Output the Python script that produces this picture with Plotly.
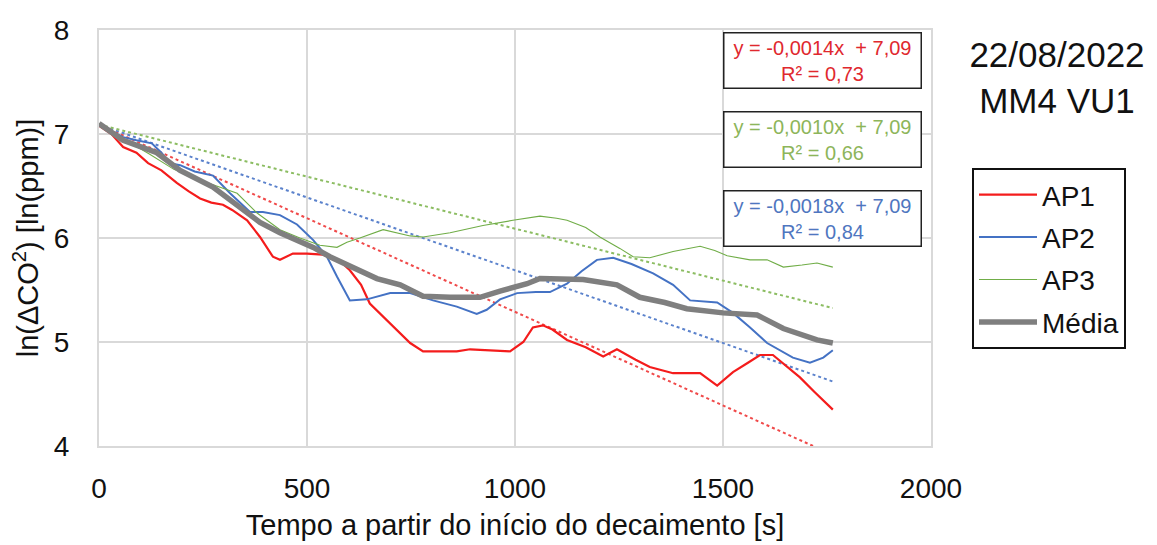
import plotly.graph_objects as go

# ---------------- data ----------------
t_ap1 = [0, 30, 58, 90, 118, 150, 187, 215, 243, 270, 298, 320, 356, 387, 418, 435, 466, 500, 538, 579,
         603, 630, 651, 700, 748, 779, 820, 860, 892, 940, 988, 1020, 1043, 1067, 1090, 1125, 1170, 1212,
         1245, 1290, 1324, 1380, 1445, 1486, 1524, 1560, 1589, 1620, 1650, 1685, 1720, 1764]
ap1 = [7.08, 7.0, 6.875, 6.82, 6.72, 6.65, 6.53, 6.45, 6.38, 6.34, 6.32, 6.27, 6.17, 6.01, 5.82, 5.79,
       5.85, 5.85, 5.84, 5.78, 5.69, 5.55, 5.37, 5.18, 4.99, 4.91, 4.91, 4.91, 4.93, 4.92, 4.91, 5.0,
       5.14, 5.16, 5.12, 5.02, 4.95, 4.86, 4.93, 4.83, 4.76, 4.70, 4.70, 4.58, 4.71, 4.80, 4.875, 4.875,
       4.78, 4.66, 4.52, 4.35]

t_ap2 = [0, 30, 58, 90, 127, 150, 171, 195, 230, 274, 315, 363, 394, 435, 476, 515, 548, 572, 603, 644,
         700, 748, 803, 860, 908, 932, 964, 1005, 1050, 1084, 1125, 1160, 1197, 1236, 1280, 1332, 1380,
         1421, 1486, 1524, 1565, 1606, 1640, 1668, 1709, 1741, 1764]
ap2 = [7.09, 7.03, 6.97, 6.94, 6.91, 6.82, 6.72, 6.70, 6.64, 6.60, 6.43, 6.25, 6.25, 6.22, 6.13, 5.98,
       5.82, 5.63, 5.40, 5.41, 5.47, 5.47, 5.40, 5.34, 5.27, 5.31, 5.41, 5.47, 5.48, 5.48, 5.56, 5.68,
       5.79, 5.81, 5.75, 5.66, 5.55, 5.40, 5.38, 5.28, 5.14, 4.99, 4.91, 4.85, 4.80, 4.85, 4.92]

t_ap3 = [0, 60, 120, 180, 240, 332, 380, 435, 483, 531, 572, 596, 627, 683, 748, 779, 844, 923, 995,
         1060, 1100, 1125, 1170, 1204, 1252, 1284, 1324, 1380, 1445, 1480, 1510, 1565, 1606, 1645, 1690,
         1726, 1764]
ap3 = [7.10, 6.95, 6.81, 6.66, 6.56, 6.43, 6.24, 6.08, 6.0, 5.93, 5.91, 5.96, 6.0, 6.08, 6.02, 6.01,
       6.05, 6.12, 6.17, 6.21, 6.19, 6.17, 6.10, 6.01, 5.90, 5.82, 5.81, 5.87, 5.92, 5.88, 5.83, 5.79,
       5.79, 5.72, 5.74, 5.76, 5.72]

t_media = [0, 58, 139, 195, 274, 339, 387, 435, 476, 515, 555, 596, 668, 724, 779, 844, 916, 964, 1029,
           1060, 1110, 1164, 1245, 1300, 1360, 1413, 1500, 1582, 1645, 1700, 1726, 1764]
media = [7.10, 6.94, 6.82, 6.65, 6.49, 6.30, 6.15, 6.05, 5.98, 5.91, 5.82, 5.74, 5.61, 5.55, 5.44, 5.43,
         5.43, 5.49, 5.56, 5.61, 5.61, 5.60, 5.55, 5.43, 5.38, 5.32, 5.28, 5.26, 5.13, 5.05, 5.02, 4.99]

# linear trend lines (as drawn): slope, intercept
trend_names = ["AP1", "AP2", "AP3"]
trend_slopes = [-0.0018, -0.0014, -0.0010]
trend_intercepts = [7.09, 7.09, 7.09]
trend_xrange = [0, 1764]

# equation labels (as printed on the chart)
eq_labels = ["y = -0,0014x  + 7,09<br>R² = 0,73",
             "y = -0,0010x  + 7,09<br>R² = 0,66",
             "y = -0,0018x  + 7,09<br>R² = 0,84"]
eq_x = [1738, 1738, 1738]
eq_y = [7.71, 6.95, 6.19]

x_ticks = [0, 500, 1000, 1500, 2000]
y_ticks = [4, 5, 6, 7, 8]

# ---------------- style ----------------
FONT = "Liberation Sans, Arial, sans-serif"
c_red, c_blue, c_green, c_gray = "#f41c1c", "#4472c4", "#70ad47", "#7f7f7f"
trend_colors = ["#f04a4a", "#5b82cc", "#8cbd62"]
eq_colors = ["#e0282e", "#8db55a", "#4f76c0"]

# page body has an 8px margin in the browser
OFF = 8
W, H = 1157 - OFF, 545 - OFF
ML, MT, MR, MB = 99 - OFF, 30 - OFF, 226, 99
PW, PH = W - ML - MR, H - MT - MB

fig = go.Figure()

for name, s, b, col in zip(trend_names, trend_slopes, trend_intercepts, trend_colors):
    fig.add_trace(go.Scatter(
        x=trend_xrange, y=[b + s * xx for xx in trend_xrange], mode="lines",
        line=dict(color=col, width=2, dash="dot"), showlegend=False, hoverinfo="skip"))

series = [("AP1", t_ap1, ap1, c_red, 2.2), ("AP2", t_ap2, ap2, c_blue, 2.0),
          ("AP3", t_ap3, ap3, c_green, 1.1), ("Média", t_media, media, c_gray, 5.5)]
for name, tx, ty, col, w in series:
    fig.add_trace(go.Scatter(x=tx, y=ty, mode="lines", name=name, legendgroup=name,
                             line=dict(color=col, width=w)))

for txt, ex, ey, col in zip(eq_labels, eq_x, eq_y, eq_colors):
    fig.add_annotation(x=ex, y=ey, xref="x", yref="y", text=txt, showarrow=False,
                       font=dict(family=FONT, size=20, color=col), align="center",
                       width=190, height=48, bgcolor="white",
                       bordercolor="#222222", borderwidth=1.5, borderpad=3)

axis_common = dict(showgrid=True, gridcolor="#d9d9d9", gridwidth=2, showline=True,
                   linecolor="#d9d9d9", linewidth=2, mirror=True, zeroline=False,
                   ticks="", tickfont=dict(family=FONT, size=28, color="#111111"))

fig.update_xaxes(range=[0, 2000], tickvals=x_ticks, ticktext=[str(v) for v in x_ticks],
                 ticklabelstandoff=16,
                 title=dict(text="Tempo a partir do início do decaimento [s]",
                            font=dict(family=FONT, size=29, color="#111111"), standoff=12),
                 **axis_common)
fig.update_yaxes(range=[4, 8], tickvals=y_ticks, ticktext=[str(v) for v in y_ticks],
                 ticklabelstandoff=22,
                 title=dict(text="ln(ΔCO<sup>2</sup>) [ln(ppm)]",
                            font=dict(family=FONT, size=29, color="#111111"), standoff=12),
                 **axis_common)

fig.update_layout(
    width=W, height=H,
    margin=dict(l=ML, r=MR, t=MT, b=MB, autoexpand=False),
    paper_bgcolor="white", plot_bgcolor="white",
    font=dict(family=FONT, color="#111111"),
    title=dict(text="22/08/2022<br>MM4 VU1", x=(1057 - OFF) / W, xanchor="center",
               y=1 - (67 - OFF) / H, yanchor="middle",
               font=dict(family=FONT, size=35, color="#111111")),
    legend=dict(x=(972 - 99) / PW, y=1 - (168 - 30) / PH, xanchor="left", yanchor="top",
                bordercolor="#111111", borderwidth=2, bgcolor="white",
                font=dict(family=FONT, size=28, color="#111111"),
                tracegroupgap=3, itemwidth=58),
)

fig.write_html("out.html")
